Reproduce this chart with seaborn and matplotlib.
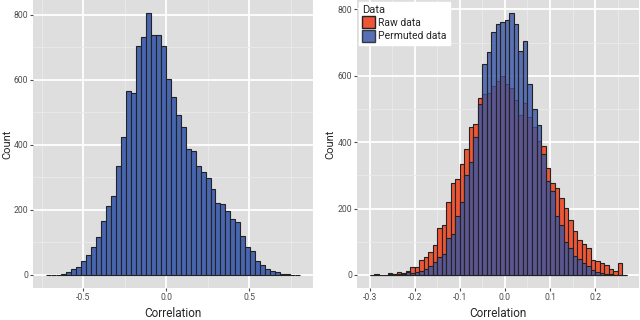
import numpy as np
import pandas as pd
import seaborn as sns
import matplotlib.pyplot as plt
from matplotlib.patches import Patch
from matplotlib.ticker import MultipleLocator

# left panel: distribution of all correlations (bins of 0.03)
left_start = -0.724
left_width = 0.03
left_counts = [1, 1, 1, 2, 8, 17, 23, 43, 60, 86, 118, 166, 212, 243, 335, 424,
               564, 558, 705, 730, 805, 738, 737, 703, 603, 547, 493, 455, 386,
               381, 335, 315, 297, 265, 221, 217, 196, 172, 163, 121, 86, 73, 42,
               30, 19, 13, 8, 3, 2, 1, 1]
left_xticks = [-0.5, 0.0, 0.5]
left_xlabels = ['-0.5', '0.0', '0.5']

# right panel: raw vs permuted data (bins of 0.01)
right_start = -0.30
right_width = 0.01
raw_counts = [0, 2, 1, 1, 6, 4, 8, 7, 12, 24, 25, 46, 55, 69, 89, 142, 149, 219,
              278, 288, 335, 378, 445, 455, 533, 546, 548, 568, 583, 598, 575,
              562, 528, 482, 517, 477, 447, 404, 388, 323, 277, 262, 231, 201,
              165, 131, 105, 92, 80, 45, 43, 37, 29, 19, 13, 35, 0]
perm_counts = [0, 1, 0, 1, 2, 2, 3, 4, 8, 6, 9, 13, 19, 28, 39, 53, 63, 112, 122,
               178, 221, 300, 341, 416, 515, 637, 672, 731, 756, 763, 767, 789,
               755, 674, 705, 575, 499, 452, 364, 282, 252, 177, 150, 99, 82, 56,
               49, 35, 27, 16, 8, 6, 4, 2, 1, 1, 0]
right_xticks = [-0.3, -0.2, -0.1, 0.0, 0.1, 0.2]
right_xlabels = ['-0.3', '-0.2', '-0.1', '0.0', '0.1', '0.2']
yticks = [0, 200, 400, 600, 800]

red = '#EE5636'
blue = '#3856A8'
bg = '#DEDEDE'

sns.set_style('darkgrid', {'axes.facecolor': bg, 'grid.color': 'white',
                           'axes.edgecolor': bg})
plt.rcParams['font.family'] = ['Roboto', 'DejaVu Sans']
plt.rcParams['axes.unicode_minus'] = False


def edges_for(start, width, n):
    return [round(start + width * i, 4) for i in range(n + 1)]


left_edges = edges_for(left_start, left_width, len(left_counts))
le = np.array(left_edges)
left_df = pd.DataFrame({'x': (le[:-1] + le[1:]) / 2, 'n': left_counts})

right_edges = edges_for(right_start, right_width, len(raw_counts))
re_ = np.array(right_edges)
centers = (re_[:-1] + re_[1:]) / 2
raw_df = pd.DataFrame({'x': centers, 'n': raw_counts})
perm_df = pd.DataFrame({'x': centers, 'n': perm_counts})

fig = plt.figure(figsize=(6.4, 3.2), dpi=100)
ax1 = fig.add_axes([0.052, 0.1, 0.437, 0.9])
ax2 = fig.add_axes([0.558, 0.1, 0.441, 0.9])

sns.histplot(data=left_df, x='x', weights='n', bins=left_edges, ax=ax1,
             color='#4866B0', alpha=1, edgecolor='#222222', linewidth=0.8)

sns.histplot(data=raw_df, x='x', weights='n', bins=right_edges, ax=ax2,
             color=red, alpha=1, edgecolor='#222222', linewidth=0.8)
sns.histplot(data=perm_df, x='x', weights='n', bins=right_edges, ax=ax2,
             color=blue, alpha=0.8, edgecolor='#222222', linewidth=0.8)


def style(ax, xt, xl, xminor, edges, ymax, ylab_x):
    span = edges[-1] - edges[0]
    ax.set_xlim(edges[0] - 0.05 * span, edges[-1] + 0.05 * span)
    ax.set_ylim(-0.05 * ymax, 1.05 * ymax)
    ax.set_xticks(xt)
    ax.set_xticklabels(xl)
    ax.set_yticks(yticks)
    ax.xaxis.set_minor_locator(MultipleLocator(xminor))
    ax.yaxis.set_minor_locator(MultipleLocator(100))
    ax.grid(which='major', color='white', lw=1.3)
    ax.grid(which='minor', color='#EBEBEB', lw=0.6)
    ax.set_axisbelow(True)
    ax.tick_params(which='major', length=2.5, width=0.8, color='#4D4D4D',
                   labelcolor='#4D4D4D', labelsize=6.2, pad=1)
    ax.tick_params(which='minor', length=0)
    ax.tick_params(axis='x', bottom=True)
    ax.tick_params(axis='y', left=True)
    for s in ax.spines.values():
        s.set_visible(False)
    ax.set_xlabel('Correlation', fontsize=8.5)
    ax.set_ylabel('Count', fontsize=8)
    ax.xaxis.set_label_coords(0.5, -0.065)
    ax.yaxis.set_label_coords(ylab_x, 0.5)


style(ax1, left_xticks, left_xlabels, 0.25, left_edges, max(left_counts), -0.074)
style(ax2, right_xticks, right_xlabels, 0.05, right_edges,
      max(max(raw_counts), max(perm_counts)), -0.078)

handles = [Patch(facecolor=red, edgecolor='#222222', label='Raw data'),
           Patch(facecolor=blue, edgecolor='#222222', alpha=0.85, label='Permuted data')]
leg = ax2.legend(handles=handles, title='Data', loc='upper left', fontsize=7.5,
                 title_fontsize=8, frameon=True, fancybox=False, framealpha=1,
                 facecolor='white', edgecolor='white', handlelength=1.3,
                 handleheight=1.4, handletextpad=0.25, borderaxespad=0.15,
                 borderpad=0.3, labelspacing=0.15, alignment='left')

fig.savefig('out.png', dpi=100)
